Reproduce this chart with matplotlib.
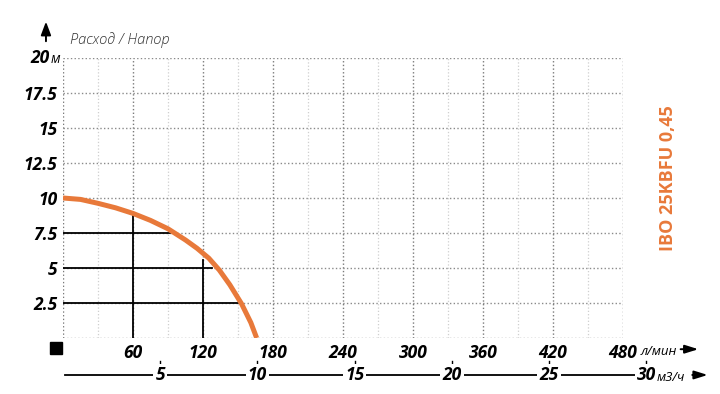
import matplotlib
matplotlib.use("Agg")
import matplotlib.pyplot as plt
from matplotlib import transforms

plt.rcParams['font.family'] = ['Open Sans', 'DejaVu Sans']

# pump curve (flow l/min -> head m)
flow_lpm = [0, 15, 30, 45, 60, 75, 90, 105, 115, 125, 134, 143, 153, 161, 166]
head_m = [10, 9.9, 9.62, 9.3, 8.9, 8.4, 7.8, 7.0, 6.4, 5.7, 4.85, 3.8, 2.45, 1.1, 0]

# black guide lines up to the curve
guide_h_levels = [7.5, 5, 2.5]
guide_h_ends = [92, 128, 150]
guide_v_flows = [60, 120]
guide_v_ends = [8.9, 5.6]

x_ticks = [60, 120, 180, 240, 300, 360, 420, 480]
y_ticks = [2.5, 5, 7.5, 10, 12.5, 15, 17.5]
y_tick_labels = ["2.5", "5", "7.5", "10", "12.5", "15", "17.5"]
m3h_ticks = [5, 10, 15, 20, 25, 30]

model_name = "IBO 25KBFU 0,45"
orange = "#E8793A"

fig = plt.figure(figsize=(7.2, 3.94), dpi=100)
ax = fig.add_axes([63 / 720, 1 - 338 / 394, 560 / 720, 280 / 394])
ax.set_xlim(0, 480)
ax.set_ylim(0, 20)
for s in ax.spines.values():
    s.set_visible(False)

# grid (dotted)
for x in range(30, 480, 60):
    ax.axvline(x, color="#cfcfcf", ls=":", lw=0.9, zorder=0)
for x in range(0, 481, 60):
    ax.axvline(x, color="#7a7a7a", ls=":", lw=1.0, zorder=0)
for k in range(0, 9):
    ax.axhline(k * 2.5, color="#8a8a8a", ls=":", lw=1.0, zorder=0)

# guide lines
for lvl, end in zip(guide_h_levels, guide_h_ends):
    ax.plot([0, end], [lvl, lvl], color="black", lw=1.3, zorder=2)
for q, end in zip(guide_v_flows, guide_v_ends):
    ax.plot([q, q], [0, end], color="black", lw=1.3, zorder=2)

# curve
ax.plot(flow_lpm, head_m, color=orange, lw=3.6, solid_capstyle="butt",
        solid_joinstyle="round", zorder=3)

# ticks
tick_font = dict(fontsize=12.5, fontweight="bold", fontstyle="italic")
ax.set_xticks(x_ticks)
ax.set_xticklabels([str(v) for v in x_ticks], **tick_font)
ax.set_yticks(y_ticks)
ax.set_yticklabels(y_tick_labels, **tick_font)
ax.tick_params(length=0, pad=4)

# "20м" on the top of y axis
ax.text(-11, 20, "20", ha="right", va="center", **tick_font)
ax.text(-11, 19.9, "м", ha="left", va="center", fontsize=10, fontstyle="italic")

# axis title and up arrow
ax.text(6, 21.3, "Расход / Напор", ha="left", va="center", fontsize=10.5,
        fontstyle="italic", fontweight="light", color="#333333")
ax.annotate("", xy=(-14.6, 22.8), xytext=(-14.6, 21.0), annotation_clip=False,
            arrowprops=dict(arrowstyle="-|>,head_length=0.8,head_width=0.3",
                            color="black", lw=1.4))

# origin square
ax.plot(-6, -0.7, marker="s", ms=8.5, color="black", clip_on=False)

# x unit and arrow
ax.text(495, -0.95, "л/мин", ha="left", va="center", fontsize=9.5, fontstyle="italic")
ax.annotate("", xy=(547, -0.8), xytext=(527, -0.8), annotation_clip=False,
            arrowprops=dict(arrowstyle="-|>,head_length=0.8,head_width=0.25",
                            color="black", lw=1.4))

# second scale: m3/h
tr = transforms.blended_transform_factory(ax.transData, ax.transAxes)
y_sec = -0.132
ax.plot([2, 500], [y_sec, y_sec], color="black", lw=1.3, transform=tr, clip_on=False)
for m in m3h_ticks:
    q = m * 1000 / 60
    ax.plot([q, q], [-0.083, -0.1], color="black", lw=1.0, transform=tr, clip_on=False)
    ax.text(q, y_sec, str(m), ha="center", va="center", transform=tr,
            bbox=dict(facecolor="white", edgecolor="none", pad=1.5), **tick_font)
ax.text(509, y_sec - 0.008, "м3/ч", ha="left", va="center", transform=tr,
        fontsize=9.5, fontstyle="italic")
ax.annotate("", xy=(555, y_sec), xytext=(537, y_sec), xycoords=tr, textcoords=tr,
            annotation_clip=False,
            arrowprops=dict(arrowstyle="-|>,head_length=0.8,head_width=0.25",
                            color="black", lw=1.4))

# model name
fig.text(668 / 720, 1 - 178 / 394, model_name, rotation=90, ha="center", va="center",
         fontsize=13, fontweight="bold", color=orange)

fig.savefig("out.png", dpi=100)
